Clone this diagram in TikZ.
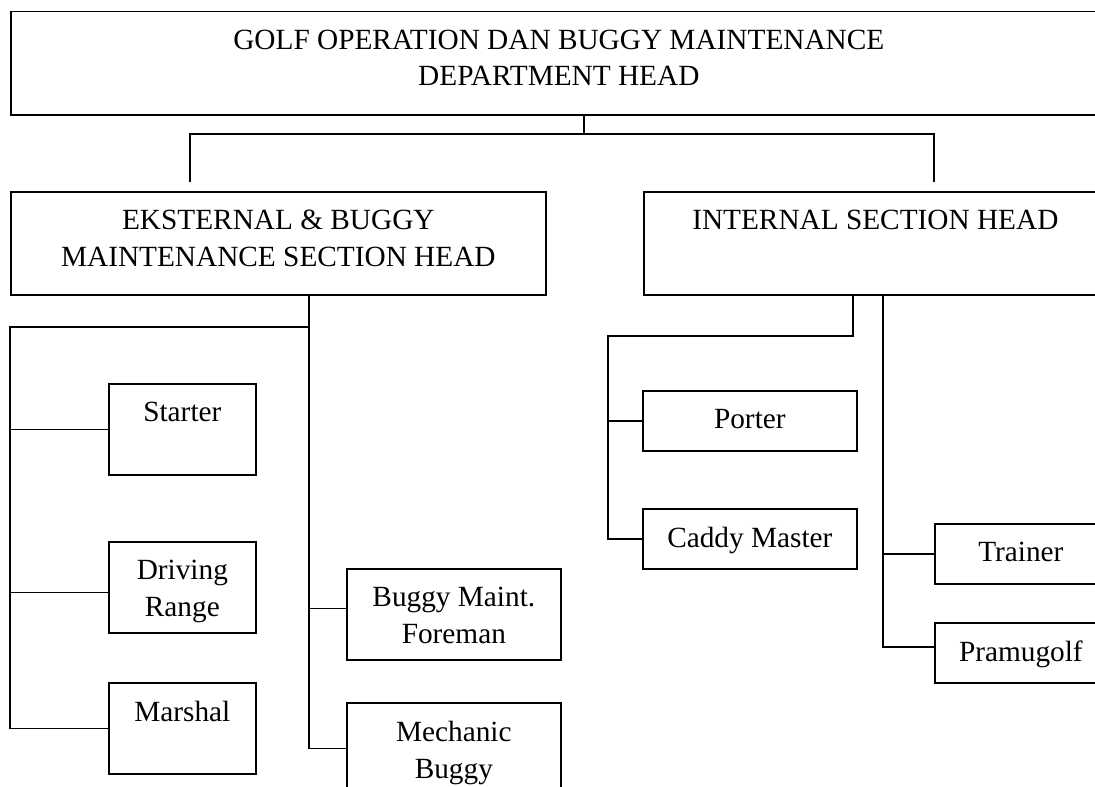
\documentclass[tikz,border=0pt]{standalone}
\usepackage{fontspec}
\setmainfont{Liberation Serif}
\begin{document}
\begin{tikzpicture}[
   x=1pt,y=-1pt,
   box/.style={draw,line width=1.7pt,anchor=north west,inner sep=0pt},
   line/.style={line width=1.7pt},
   txt/.style={anchor=north,inner sep=0pt,align=center,yshift=-19pt},
   every node/.style={font=\fontsize{29.3}{36.5}\selectfont}
 ]
  \useasboundingbox (0,0) rectangle (1095,787);
  \clip (0,0) rectangle (1095,787);

  % department head
  \node[box,minimum width=1096,minimum height=103.5,
    label={[txt]north:GOLF OPERATION DAN BUGGY MAINTENANCE\\DEPARTMENT HEAD}] (dept) at (10,10.5) {};

  % section heads
  \node[box,minimum width=535,minimum height=103,
    label={[txt]north:EKSTERNAL \& BUGGY\\MAINTENANCE SECTION HEAD}] (ext) at (10,191) {};
  \node[box,minimum width=463,minimum height=103,
    label={[txt]north:INTERNAL SECTION HEAD}] (int) at (643,191) {};

  \coordinate (topj) at (584,134);
  \coordinate (extin) at (190,182);
  \coordinate (intin) at (934,182);
  \draw[line] (dept.south -| topj) -- (topj);
  \draw[line] (extin) |- (topj) -| (intin);

  % eksternal side
  \node[box,minimum width=147,minimum height=91,label={[txt]north:Starter}] (starter) at (108,383) {};
  \node[box,minimum width=147,minimum height=91,label={[txt]north:Driving\\Range}] (drive) at (108,541) {};
  \node[box,minimum width=147,minimum height=91,label={[txt]north:Marshal}] (marshal) at (108,682) {};
  \node[box,minimum width=214,minimum height=91,label={[txt]north:Buggy Maint.\\Foreman}] (foreman) at (346,568) {};
  \node[box,minimum width=214,minimum height=91,label={[txt]north:Mechanic\\Buggy}] (mech) at (346,702) {};

  \coordinate (extv) at (309,327);
  \coordinate (extl) at (10,327);
  \draw[line] (ext.south -| extv) |- (mech.west);
  \draw[line] (extv) -- (extl) |- (marshal.west);
  \draw[line] (extl |- starter.west) -- (starter.west);
  \draw[line] ([yshift=-5pt]drive.west) -- ++(-98,0);
  \draw[line] ([yshift=6pt]foreman.west) -- ++(-37,0);

  % internal side
  \node[box,minimum width=214,minimum height=60,label={[txt]north:Porter}] (porter) at (642,390) {};
  \node[box,minimum width=214,minimum height=60,label={[txt]north:Caddy Master}] (caddy) at (642,508) {};
  \node[box,minimum width=172,minimum height=60,label={[txt]north:Trainer}] (trainer) at (934,523) {};
  \node[box,minimum width=172,minimum height=60,label={[txt]north:Pramugolf}] (pramu) at (934,622) {};

  \coordinate (intv) at (853,336);
  \coordinate (intl) at (608,336);
  \coordinate (intr) at (883,336);
  \draw[line] (int.south -| intv) -- (intv) -- (intl) |- (caddy.west);
  \draw[line] (intl |- porter.west) -- (porter.west);
  \draw[line] (int.south -| intr) |- ([yshift=6pt]pramu.west);
  \draw[line] (intr |- trainer.west) -- (trainer.west);
\end{tikzpicture}
\end{document}
